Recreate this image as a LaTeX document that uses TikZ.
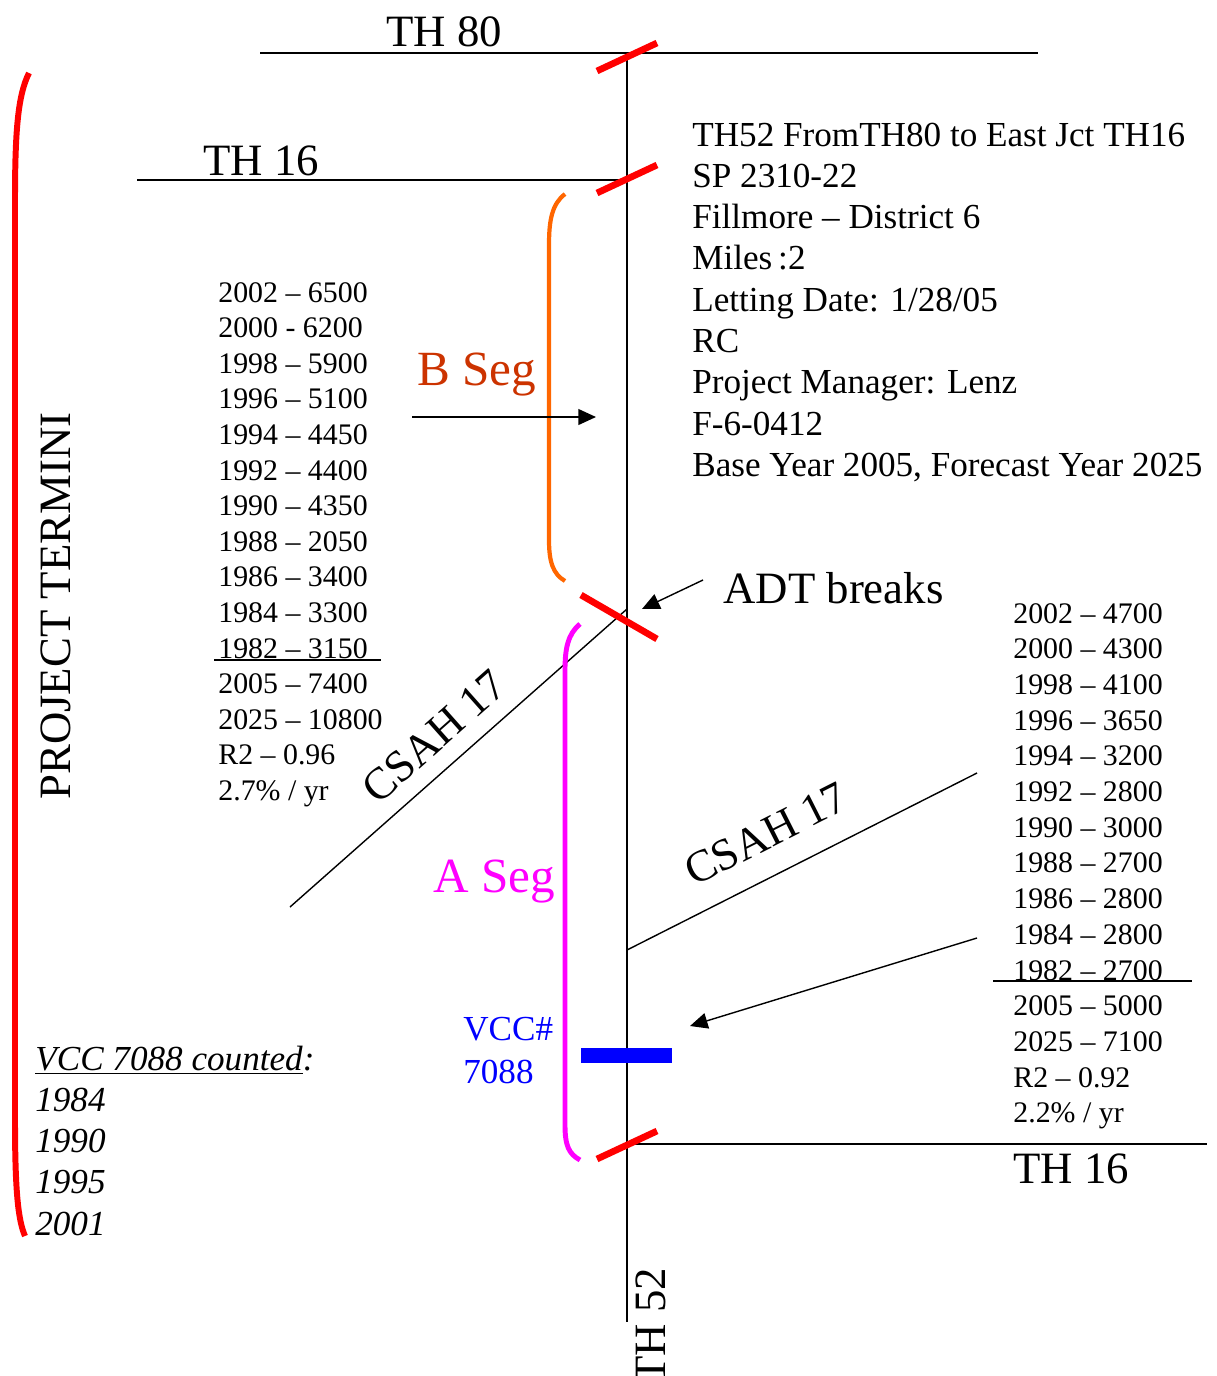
\documentclass[tikz,border=0pt]{standalone}
\usepackage{fontspec}
\setmainfont{Liberation Serif}
\usepackage{tikz}
\usetikzlibrary{positioning,arrows.meta}
\definecolor{termR}{HTML}{FF0000}
\definecolor{segB}{HTML}{FF6600}
\definecolor{segBtxt}{HTML}{CC3300}
\definecolor{segA}{HTML}{FF00FF}
\definecolor{vcc}{HTML}{0000FF}
\tikzset{
  road/.style={line width=0.8pt, draw=black},
  brk/.style={line width=3.8pt, draw=termR},
  ptr/.style={-{Triangle[length=10pt, width=9pt]}, line width=0.8pt, draw=black},
  rlbl/.style={anchor=base west, inner sep=0pt, font=\fontsize{25.5}{30}\selectfont},
  seglbl/.style={anchor=base west, inner sep=0pt, font=\fontsize{28}{32}\selectfont},
  info/.style={anchor=base west, inner sep=0pt, font=\fontsize{20}{24}\selectfont},
  cnt/.style={anchor=base west, inner sep=0pt, font=\fontsize{17}{20}\selectfont},
}

\begin{document}
\begin{tikzpicture}[x=0.02cm, y=-0.02cm]
  \useasboundingbox (0,0) rectangle (1217,1376);

  % ------------------------------------------------ roads
  \coordinate (th80w) at (260,53);
  \coordinate (th80e) at (1038,53);
  \coordinate (th52n) at (627,53);
  \coordinate (th52s) at (627,1322);
  \coordinate (th16w) at (137,180);
  \coordinate (th16n) at (627,180);
  \coordinate (th16s) at (627,1144);
  \coordinate (th16e) at (1207,1144);
  \coordinate (csahW) at (290,907);
  \coordinate (csahJ) at (627,609);
  \coordinate (csahS) at (627,950);
  \coordinate (csahE) at (977,773);

  \draw[road] (th80w) -- (th80e);
  \draw[road] (th52n) -- (th52s);
  \draw[road] (th16w) -- (th16n);
  \draw[road] (th16s) -- (th16e);
  \draw[road] (csahW) -- (csahJ);
  \draw[road] (csahS) -- (csahE);

  \node[rlbl] (l80) at (386,46) {TH 80};
  \node[rlbl] (l16n) at (203,175) {TH 16};
  \node[rlbl] (l16s) at (1013,1183) {TH 16};
  \node[rlbl, rotate=90] (l52) at (665,1384) {TH 52};
  \node[rlbl, rotate=41.6] (lcw) at (378,806) {CSAH 17};
  \node[rlbl, rotate=26.8] (lce) at (694,887) {CSAH 17};

  % ------------------------------------------------ break marks
  \draw[brk] (597,71) -- (657,43);
  \draw[brk] (597,193) -- (657,165);
  \draw[brk] (581,595) -- (657,639);
  \draw[brk] (597,1159) -- (657,1131);

  % ------------------------------------------------ segments
  \draw[segB, line width=2.4pt] (565,194) .. controls (552,204) and (549,220) .. (549,245)
    -- (549,540) .. controls (549,562) and (553,574) .. (565,581);
  \draw[segA, line width=2.8pt] (580,624) .. controls (568,634) and (565,648) .. (565,670)
    -- (565,1125) .. controls (565,1146) and (569,1154) .. (580,1160);
  \draw[termR, line width=3.4pt] (29,73) .. controls (18,95) and (15,130) .. (15,200)
    -- (15,1120) .. controls (15,1190) and (18,1220) .. (25,1236);

  \node[seglbl, text=segBtxt] (bseg) at (417,385) {B Seg};
  \node[seglbl, text=segA] (aseg) at (433,892) {A Seg};
  \node[rlbl, rotate=90] (term) at (70,800) {PROJECT TERMINI};

  % ------------------------------------------------ project data
  \foreach \t [count=\i] in {TH52 FromTH80 to East Jct TH16, SP 2310-22,
      Fillmore – District 6, Miles\,:2, Letting Date: 1/28/05, RC,
      Project Manager: Lenz, F-6-0412, {Base Year 2005, Forecast Year 2025}} {
    \node[info] (d\i) at (692,{146+41.3*(\i-1)}) {\t};
  }

  % ------------------------------------------------ counts, B segment
  \foreach \t [count=\i] in {2002 – 6500, 2000 - 6200, 1998 – 5900, 1996 – 5100,
      1994 – 4450, 1992 – 4400, 1990 – 4350, 1988 – 2050, 1986 – 3400,
      1984 – 3300, 1982 – 3150, 2005 – 7400, 2025 – 10800, R2 – 0.96,
      2.7\% / yr} {
    \node[cnt] (b\i) at (218,{302+35.6*(\i-1)}) {\t};
  }
  \draw[road] (214,660) -- (381,660);

  % ------------------------------------------------ counts, A segment
  \foreach \t [count=\i] in {2002 – 4700, 2000 – 4300, 1998 – 4100, 1996 – 3650,
      1994 – 3200, 1992 – 2800, 1990 – 3000, 1988 – 2700, 1986 – 2800,
      1984 – 2800, 1982 – 2700, 2005 – 5000, 2025 – 7100, R2 – 0.92,
      2.2\% / yr} {
    \node[cnt] (a\i) at (1013,{623+35.7*(\i-1)}) {\t};
  }
  \draw[road] (993,981) -- (1192,981);

  % ------------------------------------------------ count station
  \node[fill=vcc, inner sep=0pt, minimum width=91*0.02cm, minimum height=15*0.02cm] (bar) at (626,1055) {};
  \node[info, text=vcc] (vcc1) at (463,1040) {VCC\#};
  \node[info, text=vcc] (vcc2) at (463,1083) {7088};

  \node[info, font=\fontsize{20}{24}\selectfont\itshape] (c0) at (35,1070) {\underline{VCC 7088 counted}:};
  \foreach \y [count=\i] in {1984, 1990, 1995, 2001} {
    \node[info, font=\fontsize{20}{24}\selectfont\itshape] (c\i) at (35,{1070+41.3*\i}) {\y};
  }

  % ------------------------------------------------ pointers
  \coordinate (pB0) at (412,417);
  \coordinate (pB1) at (596,417);
  \coordinate (pD0) at (703,580);
  \coordinate (pD1) at (642,609);
  \coordinate (pA0) at (977,938);
  \coordinate (pA1) at (690,1026);
  \draw[ptr] (pB0) -- (pB1);
  \draw[ptr] (pD0) -- (pD1);
  \draw[ptr] (pA0) -- (pA1);

  \node[rlbl] (adt) at (723,603) {ADT breaks};
\end{tikzpicture}
\end{document}
